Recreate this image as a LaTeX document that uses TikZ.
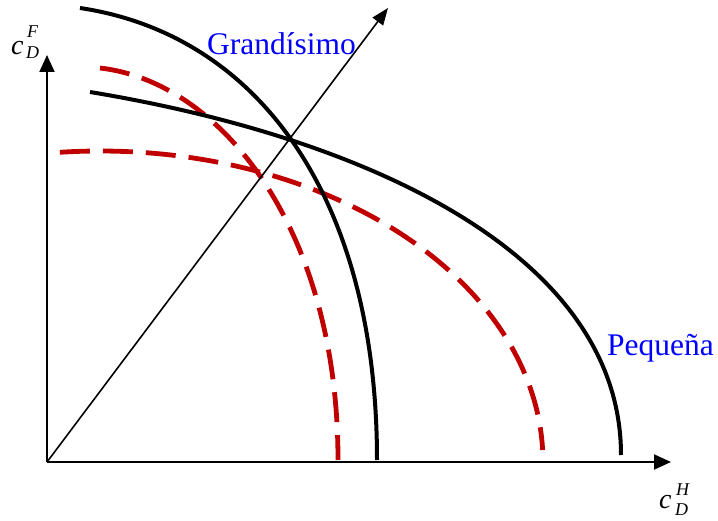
\documentclass[tikz,border=0pt]{standalone}
\usepackage{fontspec}
\setmainfont{Liberation Serif}
\usetikzlibrary{arrows.meta}
\definecolor{dred}{RGB}{192,0,0}
\begin{document}
\begin{tikzpicture}[x=1pt,y=-1pt,
  axis/.style={line width=2pt, -{Triangle[length=17pt,width=15pt]}},
  diag/.style={line width=1.6pt, -{Triangle[length=17pt,width=13pt]}},
  blackcurve/.style={line width=4pt},
  redcurve/.style={line width=4.8pt, dred, dash pattern=on 30pt off 13pt},
  lbl/.style={font=\fontsize{31.5}{36}\selectfont, inner sep=0pt, anchor=base west},
  cvar/.style={font=\fontsize{28}{32}\selectfont\itshape, inner sep=0pt, anchor=base west},
  cidx/.style={font=\fontsize{18}{21}\selectfont\itshape, inner sep=0pt, anchor=base west},
  ]
\useasboundingbox (0,0) rectangle (718,521);
\coordinate (O) at (47,462);
\coordinate (Ytip) at (47,55);
\coordinate (Xtip) at (671,462);
\coordinate (Dtip) at (388,8);
% curves
\draw[redcurve] (100,68) .. controls (222,82) and (338,230) .. (338,460);
\draw[redcurve] plot[domain=95.2:2.2, samples=60, smooth] ({100+443*cos(\x)},{462-311*sin(\x)});
\draw[blackcurve] (80,8) .. controls (260,35) and (377,200) .. (377,460);
\draw[blackcurve] (90,92) .. controls (380,140) and (621,260) .. (621,455);
% axes
\draw[axis] (O) -- (Ytip);
\draw[axis] (O) -- (Xtip);
\draw[diag] (O) -- (Dtip);
% labels
\node[lbl, text=blue] (g) at (207,55) {Grandísimo};
\node[lbl, text=blue] (p) at (607,356) {Pequeña};
\node[cvar] (cf) at (11,55) {c};
\node[cidx] (cfF) at (27,38) {F};
\node[cidx] (cfD) at (26,59) {D};
\node[cvar] (ch) at (659,508) {c};
\node[cidx] (chH) at (676,495) {H};
\node[cidx] (chD) at (675,515) {D};
\end{tikzpicture}
\end{document}
